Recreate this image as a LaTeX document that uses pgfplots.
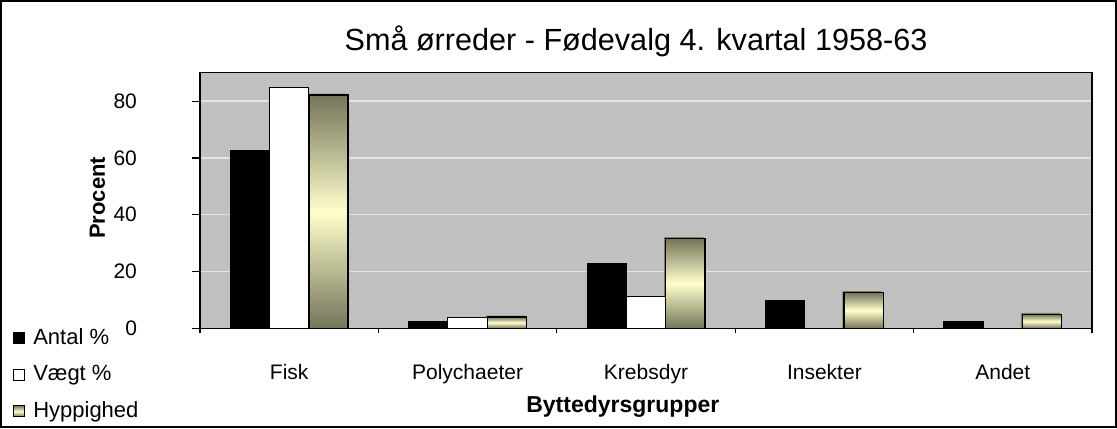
\documentclass[border=0pt]{standalone}
\usepackage{fontspec}
\setmainfont{Liberation Sans}
\usepackage{pgfplots}
\pgfplotsset{compat=1.18}
\definecolor{plotbg}{RGB}{192,192,192}
\definecolor{gridc}{RGB}{228,228,228}
\definecolor{olivec}{RGB}{116,116,90}
\definecolor{shadowc}{RGB}{128,128,100}
\definecolor{cream}{RGB}{255,255,204}
\pgfplotsset{hyp/.style={draw=black, line width=0.7pt, top color=olivec, bottom color=olivec, middle color=cream, bar shift=0.22}}
\begin{document}
\begin{tikzpicture}
\useasboundingbox (-100pt,-49.85pt) rectangle (458.5pt,164.15pt);
\fill[white] (-100pt,-49.85pt) rectangle (458.5pt,164.15pt);
\draw[black,line width=0.8pt] (-99.6pt,-49.45pt) rectangle (458.1pt,163.75pt);
\begin{axis}[
  at={(0,0)}, anchor=south west,
  scale only axis, width=446pt, height=127.8pt,
  xmin=-0.5, xmax=4.5, ymin=0, ymax=90,
  axis background/.style={fill=plotbg},
  axis line style={black, line width=0.6pt},
  ybar, bar width=0.22,
  xtick={0,...,4},
  xticklabels={Fisk,Polychaeter,Krebsdyr,Insekter,Andet},
  major x tick style={draw=none},
  minor xtick={-0.5,0.5,1.5,2.5,3.5,4.5},
  minor x tick style={black, line width=0.6pt},
  ytick={0,20,...,80},
  y tick style={black, line width=0.6pt},
  tick align=outside,
  major tick length=4pt, minor tick length=2.5pt,
  xtick pos=bottom, ytick pos=left,
  ymajorgrids, grid style={gridc, line width=0.7pt},
  tick label style={font=\fontsize{10.5}{12.6}\selectfont},
  /pgf/number format/assume math mode=true,
  yticklabel style={anchor=east, xshift=-24pt},
  xticklabel style={anchor=base, yshift=-21.7pt},
  xlabel={Byttedyrsgrupper}, ylabel={Procent},
  xlabel style={at={(axis description cs:0.474,-0.330)}, anchor=base, font=\bfseries\fontsize{11.5}{14}\selectfont},
  ylabel style={at={(axis description cs:-0.1149,0.51)}, anchor=center, font=\bfseries\fontsize{11}{13}\selectfont},
  legend style={draw=none, fill=none, at={(axis description cs:-0.21,0.016)}, anchor=north west, font=\fontsize{11}{13}\selectfont, row sep=5pt, inner sep=0pt, nodes={inner xsep=4pt}},
  legend cell align=left,
  legend image code/.code={\draw[#1, line width=0.5pt] (0pt,-2.8pt) rectangle (5.6pt,2.8pt);},
]
% shadow behind the Hyppighed bars
\addplot[fill=shadowc, draw=none, bar shift=0.211, forget plot] coordinates {(0,82.6) (1,4.5) (2,32.1) (3,13.1) (4,5.4)};
\addplot[fill=black, draw=black, line width=0.5pt, bar shift=-0.22] coordinates {(0,62.5) (1,2.3) (2,22.8) (3,9.9) (4,2.3)};
\addplot[fill=white, draw=black, line width=0.5pt, bar shift=0] coordinates {(0,84.9) (1,3.7) (2,11.3) (3,0) (4,0)};
\addplot[hyp] coordinates {(0,82.1)};
\addplot[hyp, forget plot] coordinates {(1,4.0)};
\addplot[hyp, forget plot] coordinates {(2,31.6)};
\addplot[hyp, forget plot] coordinates {(3,12.6)};
\addplot[hyp, forget plot] coordinates {(4,4.9)};
\legend{Antal \%, Vægt \%, Hyppighed}
\end{axis}
\node[anchor=base, font=\fontsize{15.3}{18}\selectfont] at (218pt,138.65pt) {Små ørreder - Fødevalg 4. kvartal 1958-63};
\end{tikzpicture}
\end{document}
